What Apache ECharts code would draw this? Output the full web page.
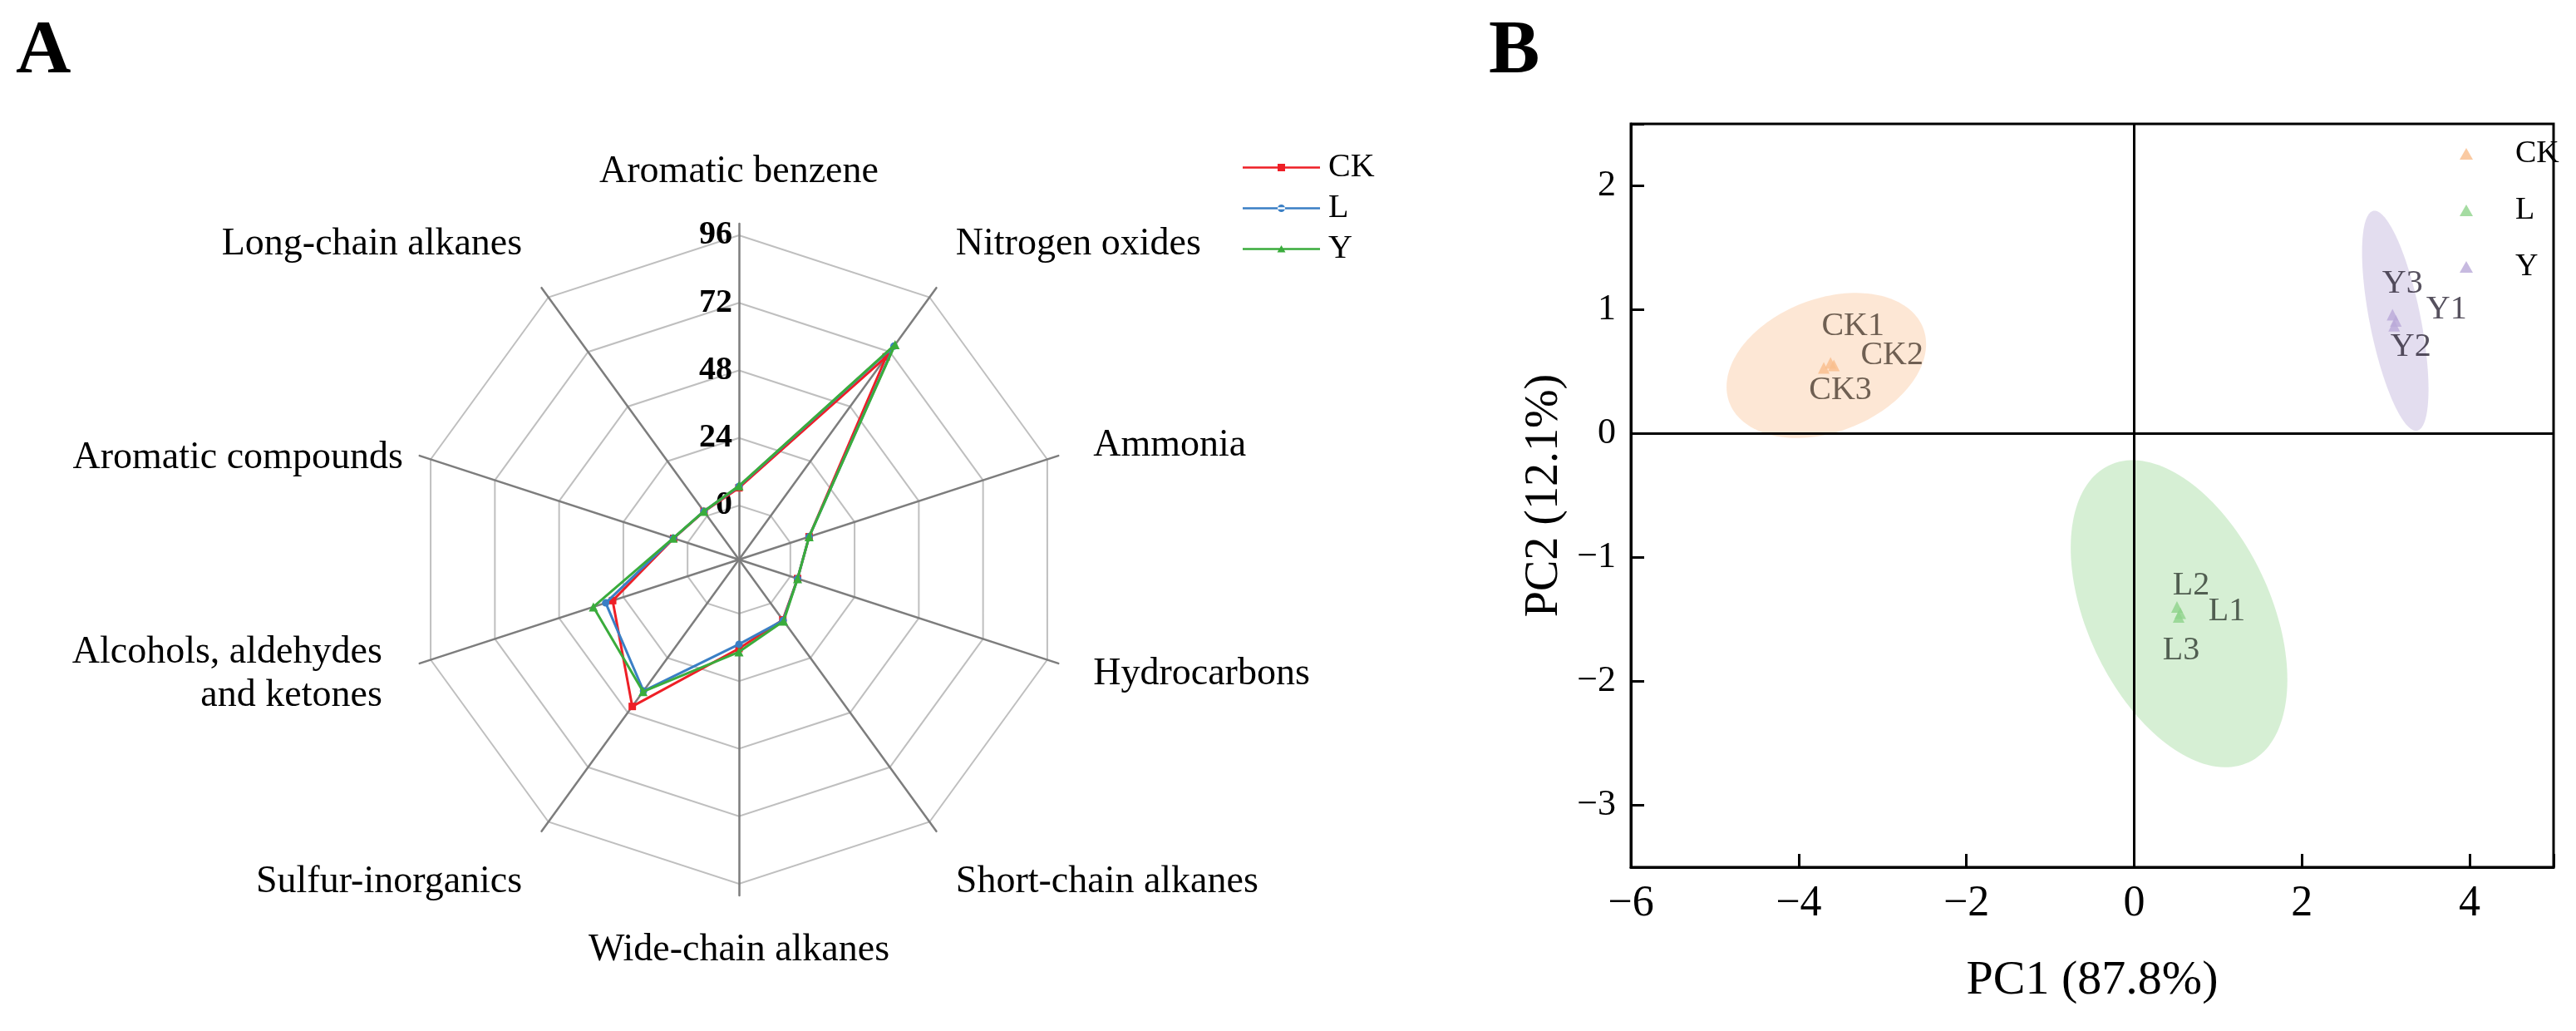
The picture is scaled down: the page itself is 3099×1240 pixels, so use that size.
<!DOCTYPE html>
<html><head><meta charset="utf-8">
<script src="https://cdn.jsdelivr.net/npm/echarts@6/dist/echarts.min.js"></script>
<style>
html,body{margin:0;padding:0;background:#fff;width:3099px;height:1240px;overflow:hidden}
#a{position:absolute;left:0;top:0;width:1750px;height:1240px}
#b{position:absolute;left:1750px;top:0;width:1349px;height:1240px}
</style>
</head><body><div id="a"></div><div id="b"></div>
<script>
// ---------- Panel A: radar data (clockwise from the top axis) ----------
const radarCategories = ['Aromatic benzene', 'Nitrogen oxides', 'Ammonia', 'Hydrocarbons',
  'Short-chain alkanes', 'Wide-chain alkanes', 'Sulfur-inorganics',
  'Alcohols, aldehydes\nand ketones', 'Aromatic compounds', 'Long-chain alkanes'];
const radarCK = [6.3, 69.8, 7.0, 2.7, 7.3, 12.4, 45.3, 28.0, 5.2, 1.9];
const radarL  = [6.8, 74.5, 7.0, 2.7, 7.5, 10.9, 38.5, 30.6, 5.3, 2.0];
const radarY  = [7.0, 75.2, 7.0, 2.7, 7.8, 13.6, 38.8, 35.2, 5.4, 2.0];
const radarTicks = [0, 24, 48, 72, 96];
const radarGroups = ['CK', 'L', 'Y'];

// ---------- Panel B: PCA data ----------
const pcaGroups = ['CK', 'L', 'Y'];
const pcaCK = [[-3.62, 0.57], [-3.58, 0.55], [-3.70, 0.53]];
const pcaL  = [[0.55, -1.45], [0.51, -1.40], [0.53, -1.48]];
const pcaY  = [[3.12, 0.91], [3.10, 0.87], [3.08, 0.96]];
const pcaNamesCK = ['CK1', 'CK2', 'CK3'];
const pcaNamesL  = ['L1', 'L2', 'L3'];
const pcaNamesY  = ['Y1', 'Y2', 'Y3'];
// ellipse: centre x, centre y, semi-axis 1 (dx, dy), semi-axis 2 (dx, dy), data units
const ellipseCK = [-3.67, 0.55, 1.155, 0.301, -0.284, 0.502];
const ellipseL  = [0.535, -1.454, -0.834, 1.198, 0.986, 0.317];
const ellipseY  = [3.113, 0.911, -0.261, 0.887, 0.298, 0.0405];
const pcaXRange = [-6, 5];
const pcaYRange = [-3.5, 2.5];

// ---------- styling ----------
const FF = '"Liberation Serif", "Times New Roman", serif';
const radarColors = ['#ee1f26', '#3a7fc5', '#3aac3c'];
const radarSymbols = ['rect', 'circle', 'triangle'];
const pcaColors = ['#f9bd8b', '#8fd38b', '#b9a9d8'];
const ellipseColors = ['rgba(249,189,139,0.36)', 'rgba(143,211,139,0.37)', 'rgba(185,169,216,0.40)'];
const pcaLabelColors = ['#4b3d31', '#2f3a2f', '#2c2636'];
const pcaLabelOffsets = [[[27, -44], [70, -12], [20, 27]], [[56, -2], [17, -26], [3, 40]], [[61, -13], [20, 26], [12, -37]]];

// radar name paddings [top,right,bottom,left], clockwise order
const namePad = [[0,0,29,0],[0,0,70,11],[0,0,12,22],[14,0,0,22],[88,0,0,11],[35,0,0,0],[88,11,0,0],[32,25,0,0],[18,0,0,0],[0,11,70,0]];

// ECharts radar places indicators counter-clockwise: reorder
const ecOrder = [0, 9, 8, 7, 6, 5, 4, 3, 2, 1];
const reorder = arr => ecOrder.map(i => arr[i]);
const rmax = radarTicks[radarTicks.length - 1];

const rich = {};
radarCategories.forEach((c, i) => {
  rich['n' + i] = { fontSize: 46, fontFamily: FF, color: '#000', lineHeight: i === 7 ? 66 : 54, padding: namePad[i], align: (i >= 6 ? 'right' : (i === 0 || i === 5 ? 'center' : 'left')) };
  rich['m' + i] = { fontSize: 46, fontFamily: FF, color: '#000', lineHeight: 70, padding: [0, namePad[i][1], 0, namePad[i][3]], align: (i >= 6 ? 'right' : 'left') };
});

const indicatorsMain = reorder(radarCategories).map((n, k) => {
  const o = { name: n, min: 0, max: rmax };
  if (k === 0) {
    o.axisLabel = { show: true, fontSize: 40, fontWeight: 'bold', fontFamily: FF, color: '#000', margin: 8 };
  }
  return o;
});
const indicatorsSpoke = reorder(radarCategories).map(n => ({ name: n, min: 0, max: rmax }));

const radarSeriesData = [radarCK, radarL, radarY];
const legendIcons = [
  'path://M0,0L0.01,0ZM0,14L0.01,14ZM0,5.7L93,5.7L93,8.3L0,8.3ZM42,2.5L51,2.5L51,11.5L42,11.5Z',
  'path://M0,0L0.01,0ZM0,14L0.01,14ZM0,5.7L93,5.7L93,8.3L0,8.3ZM42,7a4.5,4.5 0 1,0 9,0a4.5,4.5 0 1,0 -9,0Z',
  'path://M0,0L0.01,0ZM0,14L0.01,14ZM0,5.7L93,5.7L93,8.3L0,8.3ZM46.5,2.5L51.5,11L41.5,11Z'
];

const chartA = echarts.init(document.getElementById('a'));
chartA.setOption({
  animation: false,
  backgroundColor: '#fff',
  title: { text: 'A', left: 14, top: 12, textStyle: { fontSize: 92, fontWeight: 'bold', fontFamily: FF, color: '#000' } },
  legend: {
    orient: 'vertical', left: 1490, top: 172, itemWidth: 93, itemHeight: 14, itemGap: 0,
    data: radarGroups.map((g, k) => ({ name: g, icon: legendIcons[k] })),
    textStyle: { fontSize: 40, fontFamily: FF, color: '#000', lineHeight: 49, padding: [0, 0, 0, 5] }
  },
  radar: [
    {
      center: [889, 673], radius: [65, 390], startAngle: 90, shape: 'polygon',
      splitNumber: radarTicks.length - 1,
      indicator: indicatorsMain,
      nameGap: 35,
      axisName: {
        show: true, color: '#000', fontSize: 46, fontFamily: FF,
        formatter: function (name) {
          const i = radarCategories.indexOf(name);
          const lines = name.split('\n');
          if (lines.length === 1) return '{n' + i + '|' + name + '}';
          return lines.map((l, j) => (j === 0 ? '{n' : '{m') + i + '|' + l + '}').join('\n');
        },
        rich: rich
      },
      axisLine: { show: false }, axisTick: { show: false },
      axisLabel: { show: false },
      splitLine: { lineStyle: { color: '#bfbfbf', width: 2 } },
      splitArea: { show: false }
    },
    {
      center: [889, 673], radius: 404, startAngle: 90, shape: 'polygon',
      indicator: indicatorsSpoke,
      axisName: { show: false },
      axisLine: { lineStyle: { color: '#7d7d7d', width: 2.5 } },
      axisTick: { show: false }, axisLabel: { show: false },
      splitLine: { show: false }, splitArea: { show: false }
    }
  ],
  series: radarGroups.map((g, k) => ({
    type: 'radar', name: g, radarIndex: 0, z: 3 + k,
    symbol: radarSymbols[k], symbolSize: k === 2 ? 11 : 9,
    lineStyle: { width: 3, color: radarColors[k] },
    itemStyle: { color: radarColors[k] },
    data: [{ name: g, value: reorder(radarSeriesData[k]) }]
  }))
});

// ---------- Panel B ----------
const pcaData = [pcaCK, pcaL, pcaY];
const pcaNames = [pcaNamesCK, pcaNamesL, pcaNamesY];
const ellipses = [ellipseCK, ellipseL, ellipseY];
const minus = v => (v < 0 ? '\u2212' + Math.abs(v) : String(v));

const chartB = echarts.init(document.getElementById('b'));
const seriesB = [];
pcaGroups.forEach((g, k) => {
  seriesB.push({
    type: 'custom', name: g + ' ellipse', z: 1, silent: true,
    data: [ellipses[k]],
    encode: { x: 0, y: 1 },
    renderItem: function (params, api) {
      const cx = api.value(0), cy = api.value(1), ax = api.value(2), ay = api.value(3), bx = api.value(4), by = api.value(5);
      const pts = [];
      for (let i = 0; i < 160; i++) {
        const t = i / 160 * Math.PI * 2;
        pts.push(api.coord([cx + ax * Math.cos(t) + bx * Math.sin(t), cy + ay * Math.cos(t) + by * Math.sin(t)]));
      }
      return { type: 'polygon', shape: { points: pts }, style: { fill: ellipseColors[k] } };
    }
  });
});
pcaGroups.forEach((g, k) => {
  const s = {
    type: 'scatter', name: g, z: 5, symbol: 'triangle', symbolSize: 14,
    itemStyle: { color: pcaColors[k] },
    label: { show: true, position: 'inside', fontSize: 40, fontFamily: FF, color: pcaLabelColors[k], formatter: p => p.name },
    data: pcaData[k].map((v, i) => ({ value: v, name: pcaNames[k][i], label: { offset: pcaLabelOffsets[k][i] } }))
  };
  if (k === 0) {
    s.markLine = {
      silent: true, symbol: 'none', z: 4,
      lineStyle: { color: '#000', width: 3, type: 'solid' },
      label: { show: false },
      data: [{ xAxis: 0 }, { yAxis: 0 }]
    };
  }
  seriesB.push(s);
});

chartB.setOption({
  animation: false,
  backgroundColor: '#fff',
  title: { text: 'B', left: 36, top: 12, textStyle: { fontSize: 92, fontWeight: 'bold', fontFamily: FF, color: '#000' } },
  legend: {
    orient: 'vertical', left: 1204, top: 146, itemWidth: 16, itemHeight: 14, itemGap: 0,
    data: pcaGroups.map(g => ({ name: g, icon: 'triangle' })),
    textStyle: { fontSize: 38, fontFamily: FF, color: '#000', lineHeight: 68, padding: [0, 0, 0, 46] }
  },
  grid: { left: 212, right: 27, top: 149, bottom: 197, show: true, borderColor: '#000', borderWidth: 3, backgroundColor: 'transparent' },
  xAxis: {
    type: 'value', min: pcaXRange[0], max: pcaXRange[1], splitNumber: 5,
    name: 'PC1 (87.8%)', nameLocation: 'middle', nameGap: 108,
    nameTextStyle: { fontSize: 58, fontFamily: FF, color: '#000' },
    axisLine: { onZero: false, lineStyle: { color: '#000', width: 3 } },
    axisTick: { inside: true, length: 16, lineStyle: { color: '#000', width: 3 } },
    axisLabel: { fontSize: 52, fontFamily: FF, color: '#000', margin: 18, formatter: v => (Number.isInteger(v / 2) && v < pcaXRange[1] ? minus(v) : '') },
    splitLine: { show: false }
  },
  yAxis: {
    type: 'value', min: pcaYRange[0], max: pcaYRange[1], splitNumber: 6,
    name: 'PC2 (12.1%)', nameLocation: 'middle', nameGap: 64, nameRotate: 90,
    nameTextStyle: { fontSize: 56, fontFamily: FF, color: '#000' },
    axisLine: { onZero: false, lineStyle: { color: '#000', width: 3 } },
    axisTick: { inside: true, length: 16, lineStyle: { color: '#000', width: 3 } },
    axisLabel: { fontSize: 44, fontFamily: FF, color: '#000', margin: 18, formatter: v => (Number.isInteger(v) ? minus(v) : '') },
    splitLine: { show: false }
  },
  series: seriesB
});
</script>
</body></html>
